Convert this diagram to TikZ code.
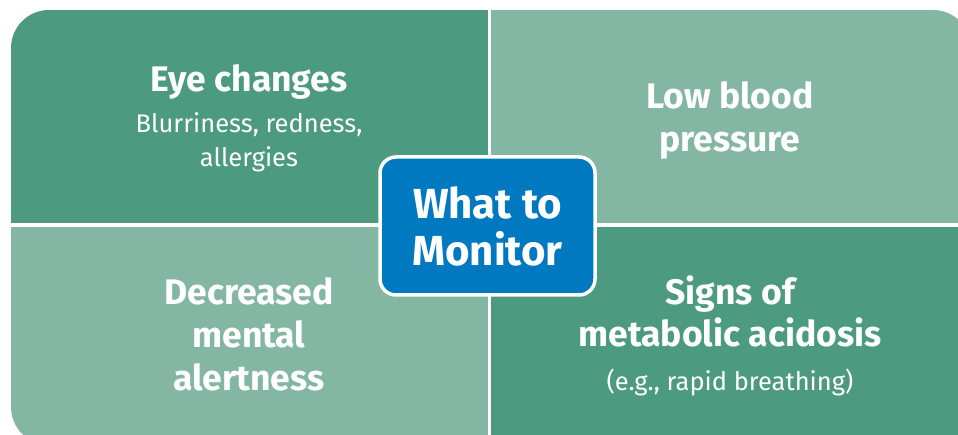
\documentclass[tikz,border=0pt]{standalone}
\usepackage{fontspec}
\setmainfont{Fira Sans}
\definecolor{darkgreen}{HTML}{4C9A7F}
\definecolor{lightgreen}{HTML}{84B7A3}
\definecolor{monitorblue}{HTML}{0079C1}
\tikzset{
  title/.style={text=white, inner sep=0pt, align=center, anchor=base, font=\bfseries\fontsize{35.5}{43}\selectfont},
  detail/.style={text=white, inner sep=0pt, align=center, anchor=base, font=\fontsize{25.5}{34}\selectfont},
  hub/.style={draw=white, line width=3.5pt, fill=monitorblue, rounded corners=16pt, text=white,
    minimum width=215pt, minimum height=138pt, inner sep=0pt, align=center,
    font=\bfseries\fontsize{42}{47}\selectfont}
}
\begin{document}
\begin{tikzpicture}[x=1pt,y=-1pt]
			\useasboundingbox (0,0) rectangle (958,435);

			% Les quadrants
			\begin{scope}
				\clip[rounded corners=38pt] (11,10) rectangle (971,445);
				\fill[darkgreen] (11,10) rectangle (489,225);
				\fill[lightgreen] (489,10) rectangle (971,225);
				\fill[lightgreen] (11,225) rectangle (489,445);
				\fill[darkgreen] (489,225) rectangle (971,445);
			\end{scope}
			\draw[white,line width=3.5pt] (489.5,10) -- (489.5,445);
			\draw[white,line width=3.5pt] (11,225) -- (971,225);

			% Les textes (base = derniere ligne)
			\node[title] (eye) at (249,92) {Eye changes};
			\node[detail] (eyedetail) at (249,167) {Blurriness, redness,\\allergies};
			\node[title] (pressure) at (730,152) {Low blood\\pressure};
			\node[title] (alertness) at (249,390) {Decreased\\mental\\alertness};
			\node[title] (acidosis) at (730,347) {Signs of\\metabolic acidosis};
			\node[detail] (acidosisdetail) at (730,390) {(e.g., rapid breathing)};

			% Le centre
			\node[hub] (monitor) at (487.5,226) {What to\\Monitor};
		\end{tikzpicture}
\end{document}
